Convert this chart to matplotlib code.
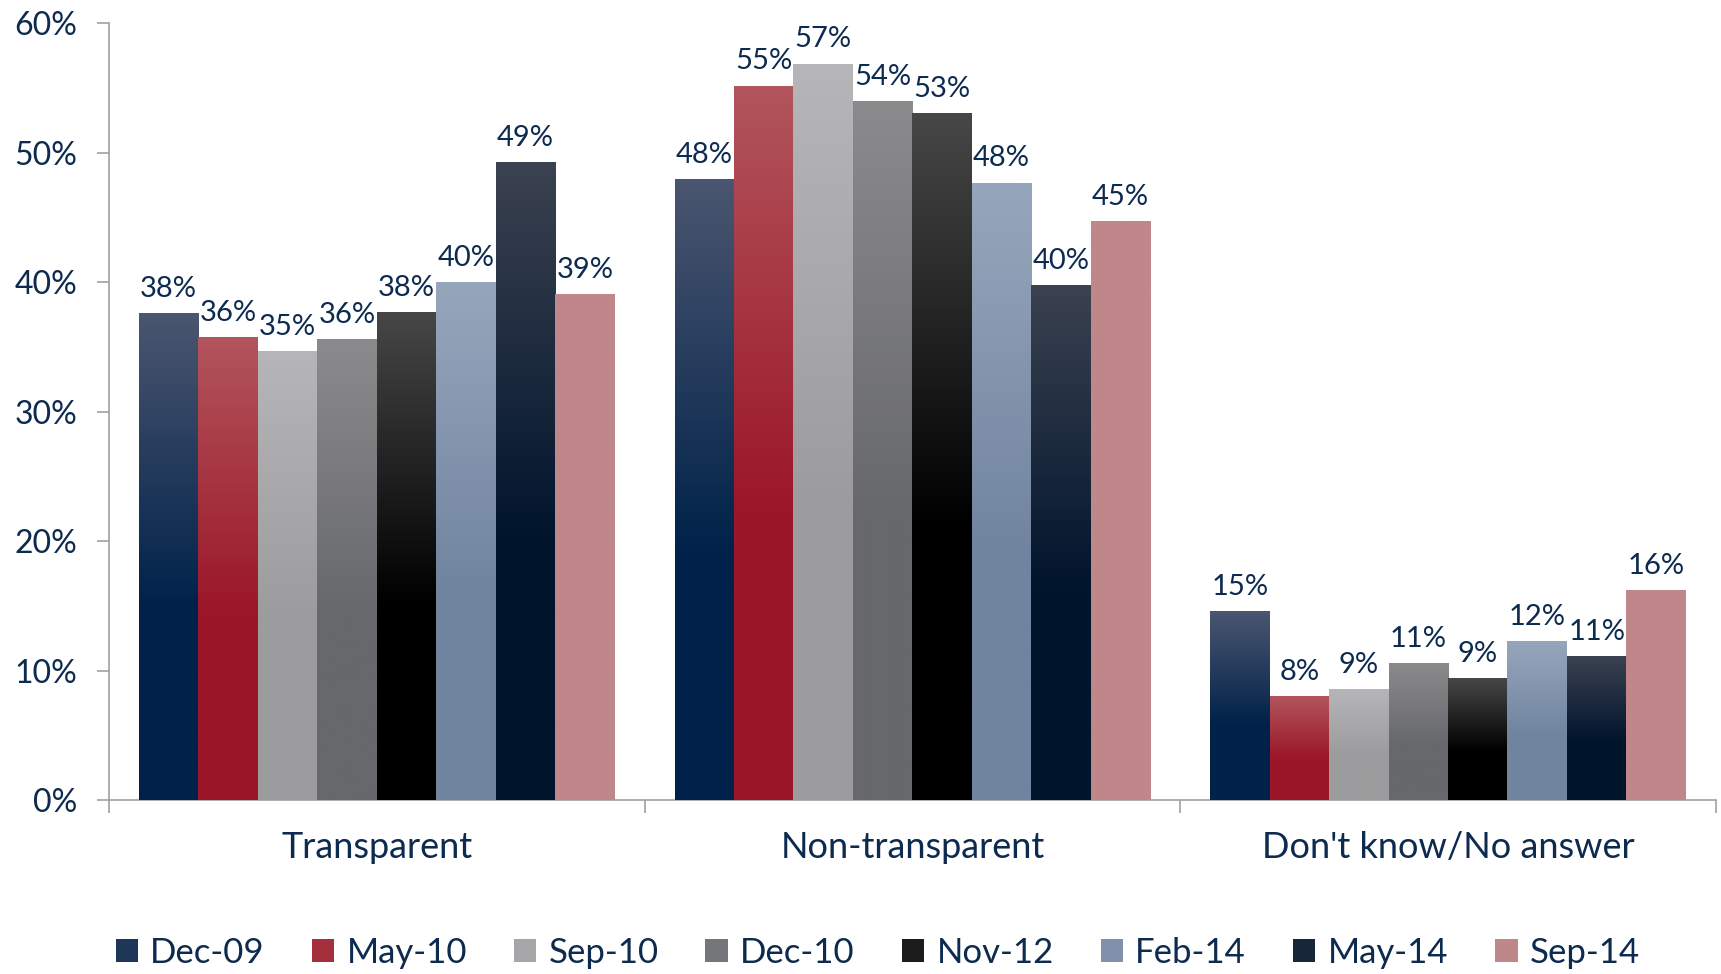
import numpy as np
import matplotlib
matplotlib.use("Agg")
import matplotlib.pyplot as plt
from matplotlib.colors import to_rgb
from matplotlib.patches import Rectangle

categories = ["Transparent", "Non-transparent", "Don't know/No answer"]
series = ["Dec-09", "May-10", "Sep-10", "Dec-10", "Nov-12", "Feb-14", "May-14", "Sep-14"]
values = {
    "Dec-09": [37.6, 48.0, 14.6],
    "May-10": [35.8, 55.2, 8.0],
    "Sep-10": [34.7, 56.9, 8.6],
    "Dec-10": [35.6, 54.0, 10.6],
    "Nov-12": [37.7, 53.1, 9.4],
    "Feb-14": [40.0, 47.7, 12.3],
    "May-14": [49.3, 39.8, 11.1],
    "Sep-14": [39.1, 44.7, 16.2],
}
labels = {
    "Dec-09": ["38%", "48%", "15%"],
    "May-10": ["36%", "55%", "8%"],
    "Sep-10": ["35%", "57%", "9%"],
    "Dec-10": ["36%", "54%", "11%"],
    "Nov-12": ["38%", "53%", "9%"],
    "Feb-14": ["40%", "48%", "12%"],
    "May-14": ["49%", "40%", "11%"],
    "Sep-14": ["39%", "45%", "16%"],
}
yticks = [0, 10, 20, 30, 40, 50, 60]
ytick_labels = ["0%", "10%", "20%", "30%", "40%", "50%", "60%"]

# gradient colours (top, bottom)
grad = {
    "Dec-09": ("#4b5670", "#00224a"),
    "May-10": ("#b2555c", "#9b1628"),
    "Sep-10": ("#b6b6b8", "#9c9c9e"),
    "Dec-10": ("#8b8b8d", "#67686c"),
    "Nov-12": ("#474747", "#000000"),
    "Feb-14": ("#96a6bc", "#71849f"),
    "May-14": ("#3b4250", "#00142c"),
    "Sep-14": ("#c0878a", "#c0878a"),
}

TEXT = "#0d2a4f"
FONT = ["Lato", "DejaVu Sans"]
plt.rcParams["font.family"] = FONT

fig = plt.figure(figsize=(17.21, 9.74), dpi=100)
ax = fig.add_axes([0.0633, 0.1786, 0.9337, 0.7974])

n = len(series)
width = 0.111
x = np.arange(len(categories))


def make_grad_img(top, bottom):
    t = np.array(to_rgb(top))
    b = np.array(to_rgb(bottom))
    rows = 200
    img = np.zeros((rows, 1, 3))
    for i in range(rows):
        f = i / (rows - 1)  # 0 top -> 1 bottom
        g = min(f / 0.6, 1.0)
        img[i, 0] = t * (1 - g) + b * g
    return img

for i, s in enumerate(series):
    xs = x - width * n / 2 + width * (i + 0.5)
    bars = ax.bar(xs, values[s], width=width, color=grad[s][1], linewidth=0, zorder=2)
    img = make_grad_img(*grad[s])
    for bar, lab in zip(bars, labels[s]):
        bx, by = bar.get_x(), bar.get_y()
        bw, bh = bar.get_width(), bar.get_height()
        im = ax.imshow(img, extent=[bx, bx + bw, by, by + bh], aspect="auto",
                       interpolation="bilinear", zorder=3)
        im.set_clip_path(bar)
        ax.annotate(lab, (bx + bw / 2, by + bh), xytext=(0, 8), textcoords="offset points",
                    ha="center", va="bottom", fontsize=21, color=TEXT, zorder=4)

ax.set_xlim(-0.5, 2.5)
ax.set_ylim(0, 60)
ax.set_yticks(yticks)
ax.set_yticklabels(ytick_labels, fontsize=23, color=TEXT)
ax.set_xticks(x)
ax.set_xticklabels(categories, fontsize=26, color=TEXT)
ax.tick_params(axis="x", length=0, pad=22)
ax.tick_params(axis="y", length=9, width=1.2, color="#a0a0a8", pad=14, direction="out")
ax.set_xticks([-0.5, 0.5, 1.5, 2.5], minor=True)
ax.tick_params(axis="x", which="minor", length=9, width=1.2, color="#a0a0a8", direction="out")
for sp in ["top", "right"]:
    ax.spines[sp].set_visible(False)
for sp in ["left", "bottom"]:
    ax.spines[sp].set_color("#a0a0a8")
    ax.spines[sp].set_linewidth(1.2)

handles = []
for s in series:
    t = np.array(to_rgb(grad[s][0])); b = np.array(to_rgb(grad[s][1]))
    handles.append(Rectangle((0, 0), 1, 1, facecolor=tuple(t * 0.4 + b * 0.6), edgecolor="none"))

leg = fig.legend(handles, series, loc="center", bbox_to_anchor=(0.51, 0.022), ncol=8,
                 frameon=False, fontsize=25, handlelength=0.65, handleheight=0.65,
                 handletextpad=0.35, columnspacing=1.35, labelcolor=TEXT)

fig.savefig("out.png", dpi=100)
